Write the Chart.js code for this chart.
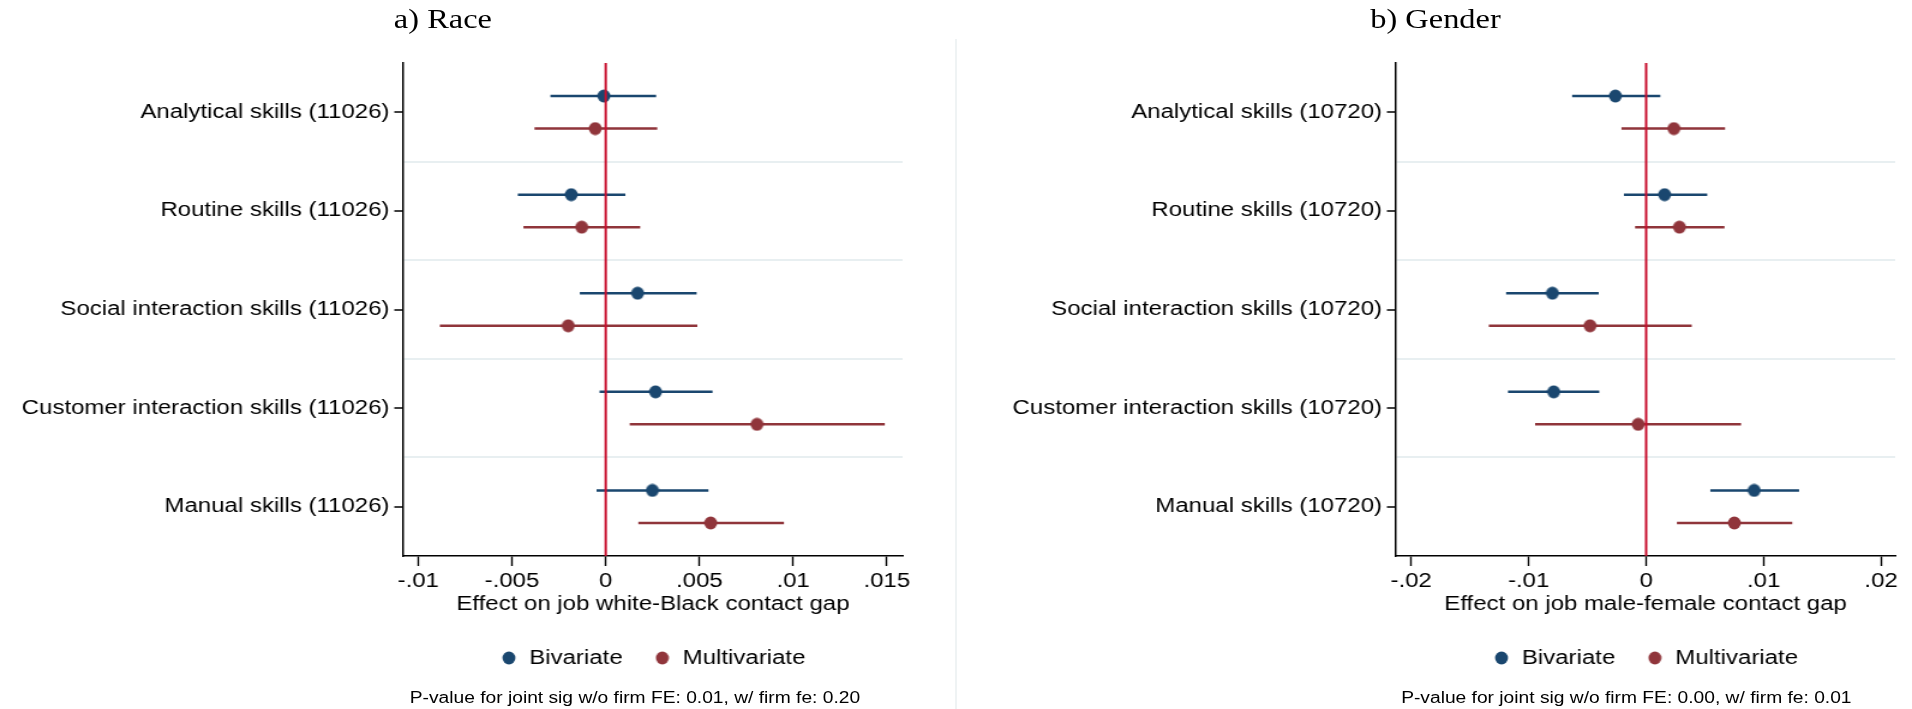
<!DOCTYPE html>
<html>
<head>
<meta charset="utf-8">
<script src="https://cdn.jsdelivr.net/npm/chart.js@4.4.1/dist/chart.umd.min.js"></script>
<style>
  html, body { margin: 0; padding: 0; background: #fff; overflow: hidden; }
  /* the reference is stretched horizontally, so lay out at 1593px and stretch to 1912px */
  #page { position: absolute; left: 0; top: 0; width: 1593px; height: 709px; transform-origin: 0 0; transform: scaleX(1.20025); }
  canvas { position: absolute; top: 0; }
  .ttl { position: absolute; top: 6px; font: 27px/27px "Liberation Serif", serif; color: #000; white-space: nowrap; transform: translateX(-50%); }
  .note { position: absolute; top: 690px; font: 16px/16px "Liberation Sans", Arial, sans-serif; color: #000; white-space: nowrap; transform: translateX(-50%); }
  #sep { position: absolute; left: 796px; top: 39px; width: 1.4px; height: 670px; background: #E5EBED; }
</style>
</head>
<body>
<div id="page">
  <div class="ttl" style="left:369px">a) Race</div>
  <div class="ttl" style="left:1196px">b) Gender</div>
  <div id="sep"></div>
  <canvas id="raceChart" width="796" height="709" style="left:0"></canvas>
  <canvas id="genderChart" width="796" height="709" style="left:797px"></canvas>
  <div class="note" style="left:529px">P-value for joint sig w/o firm FE: 0.01, w/ firm fe: 0.20</div>
  <div class="note" style="left:1355px">P-value for joint sig w/o firm FE: 0.00, w/ firm fe: 0.01</div>
</div>
<script>
// Coefficient plots: effect of job skills on contact gaps

// a) Race
const raceLabels = [
  'Analytical skills (11026)',
  'Routine skills (11026)',
  'Social interaction skills (11026)',
  'Customer interaction skills (11026)',
  'Manual skills (11026)'
];
const raceBiv     = [-0.0001, -0.00184, 0.0017, 0.00266, 0.00249];
const raceBivLo   = [-0.00295, -0.00469, -0.00138, -0.00033, -0.00049];
const raceBivHi   = [0.00269, 0.00105, 0.00485, 0.0057, 0.00548];
const raceMulti   = [-0.00056, -0.00128, -0.0020, 0.00807, 0.0056];
const raceMultiLo = [-0.0038, -0.00439, -0.00885, 0.00128, 0.00174];
const raceMultiHi = [0.00275, 0.00184, 0.00489, 0.01489, 0.00951];
const raceTicks   = [-0.01, -0.005, 0, 0.005, 0.01, 0.015];

// b) Gender
const genderLabels = [
  'Analytical skills (10720)',
  'Routine skills (10720)',
  'Social interaction skills (10720)',
  'Customer interaction skills (10720)',
  'Manual skills (10720)'
];
const genderBiv     = [-0.00262, 0.00157, -0.00798, -0.00787, 0.00919];
const genderBivLo   = [-0.0063, -0.00189, -0.01192, -0.01176, 0.00546];
const genderBivHi   = [0.00121, 0.0052, -0.00404, -0.00399, 0.01302];
const genderMulti   = [0.00236, 0.00283, -0.00478, -0.00068, 0.00751];
const genderMultiLo = [-0.0021, -0.00094, -0.01339, -0.00945, 0.00262];
const genderMultiHi = [0.00672, 0.00667, 0.00388, 0.00808, 0.01244];
const genderTicks   = [-0.02, -0.01, 0, 0.01, 0.02];

// row positions: labels on whole rows, separators half way
const rowTicks = [1, 1.5, 2, 2.5, 3, 3.5, 4, 4.5, 5];

const navy = '#1A476F';
const maroon = '#90353B';
const zeroRed = '#C8102E';
const sepColor = '#E8EFF1';
const rowShift = 0.165;

Chart.defaults.font.family = '"Liberation Sans", Arial, sans-serif';
Chart.defaults.color = '#000';

// round marker, drawn narrow because the page is stretched afterwards
function dot(color) {
  const c = document.createElement('canvas');
  c.width = 12;
  c.height = 14;
  const g = c.getContext('2d');
  g.fillStyle = color;
  g.beginPath();
  g.ellipse(6, 7, 5.4, 6.4, 0, 0, Math.PI * 2);
  g.fill();
  return c;
}

// Stata style numbers: .005, -.01
function stataNum(v) {
  if (v === 0) return '0';
  return String(+v.toPrecision(6)).replace('0.', '.');
}

function estPoints(est, shift) {
  return est.map((v, i) => ({ x: v, y: i + 1 + shift }));
}

function ciPoints(lo, hi, shift) {
  const pts = [];
  lo.forEach((l, i) => {
    pts.push({ x: l, y: i + 1 + shift }, { x: hi[i], y: i + 1 + shift }, { x: null, y: null });
  });
  return pts;
}

function makePanel(id, p) {
  return new Chart(document.getElementById(id), {
    type: 'scatter',
    data: {
      datasets: [
        {
          label: 'zero',
          type: 'line',
          data: [{ x: 0, y: 0.5 }, { x: 0, y: 5.5 }],
          borderColor: zeroRed,
          borderWidth: 2,
          pointRadius: 0
        },
        {
          label: 'Bivariate',
          data: estPoints(p.biv, -rowShift),
          pointStyle: dot(navy),
          backgroundColor: navy,
          borderColor: navy
        },
        {
          label: 'Multivariate',
          data: estPoints(p.multi, rowShift),
          pointStyle: dot(maroon),
          backgroundColor: maroon,
          borderColor: maroon
        },
        {
          label: 'ci1',
          type: 'line',
          data: ciPoints(p.bivLo, p.bivHi, -rowShift),
          borderColor: navy,
          borderWidth: 2.5,
          pointRadius: 0,
          spanGaps: false
        },
        {
          label: 'ci2',
          type: 'line',
          data: ciPoints(p.multiLo, p.multiHi, rowShift),
          borderColor: maroon,
          borderWidth: 2.5,
          pointRadius: 0,
          spanGaps: false
        }
      ]
    },
    options: {
      responsive: false,
      animation: false,
      events: [],
      layout: { padding: { left: 0, right: p.padRight, top: 63, bottom: 31 } },
      plugins: {
        tooltip: { enabled: false },
        title: { display: false },
        legend: {
          display: true,
          position: 'bottom',
          fullSize: false,
          labels: {
            usePointStyle: true,
            boxWidth: 14,
            padding: 26,
            font: { size: 20 },
            color: '#000',
            filter: item => item.text === 'Bivariate' || item.text === 'Multivariate'
          }
        }
      },
      scales: {
        x: {
          type: 'linear',
          min: p.min,
          max: p.max,
          afterBuildTicks: s => { s.ticks = p.ticks.map(v => ({ value: v })); },
          afterFit: s => { s.height = 66; },
          ticks: {
            callback: v => stataNum(v),
            font: { size: 20 },
            color: '#000',
            padding: 3,
            maxRotation: 0,
            autoSkip: false
          },
          grid: { drawOnChartArea: false, tickLength: 10, tickColor: '#000', tickWidth: 1.4, color: '#000' },
          border: { color: '#000', width: 1.5 },
          title: { display: true, text: p.xTitle, font: { size: 20 }, color: '#000', padding: { top: 0, bottom: 6 } }
        },
        y: {
          type: 'linear',
          min: 0.5,
          max: 5.5,
          reverse: true,
          afterBuildTicks: s => { s.ticks = rowTicks.map(v => ({ value: v })); },
          afterFit: s => { s.width = p.axisW; },
          ticks: {
            callback: v => Number.isInteger(v) ? p.labels[v - 1] : '',
            font: { size: 20 },
            color: '#000',
            padding: 4,
            autoSkip: false
          },
          grid: {
            color: c => (c.tick && c.tick.value % 1 !== 0) ? sepColor : 'rgba(0,0,0,0)',
            tickColor: c => (c.tick && c.tick.value % 1 === 0) ? '#000' : 'rgba(0,0,0,0)',
            lineWidth: 2,
            tickLength: 7.5,
            tickWidth: 1.5
          },
          border: { color: '#000', width: 1.5 }
        }
      }
    }
  });
}

makePanel('raceChart', {
  labels: raceLabels,
  biv: raceBiv, bivLo: raceBivLo, bivHi: raceBivHi,
  multi: raceMulti, multiLo: raceMultiLo, multiHi: raceMultiHi,
  ticks: raceTicks, min: -0.0108, max: 0.01584,
  xTitle: 'Effect on job white-Black contact gap',
  axisW: 336, padRight: 44
});

makePanel('genderChart', {
  labels: genderLabels,
  biv: genderBiv, bivLo: genderBivLo, bivHi: genderBivHi,
  multi: genderMulti, multiLo: genderMultiLo, multiHi: genderMultiHi,
  ticks: genderTicks, min: -0.0213, max: 0.0212,
  xTitle: 'Effect on job male-female contact gap',
  axisW: 366, padRight: 14
});
</script>
</body>
</html>
